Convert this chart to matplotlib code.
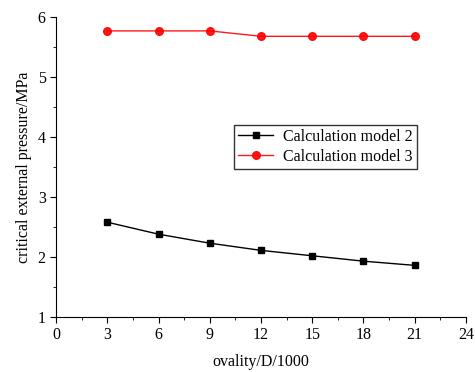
import matplotlib.pyplot as plt
from matplotlib.ticker import MultipleLocator

plt.rcParams['font.family'] = ['Liberation Serif', 'DejaVu Serif']

ovality = [3, 6, 9, 12, 15, 18, 21]
model2 = [2.58, 2.38, 2.23, 2.11, 2.02, 1.93, 1.86]
model3 = [5.77, 5.77, 5.77, 5.68, 5.68, 5.68, 5.68]

fig = plt.figure(figsize=(4.75, 3.72), dpi=100)
ax = fig.add_axes([0.118, 0.148, 0.863, 0.806])

ax.plot(ovality, model2, color="black", linewidth=1, marker="s", markersize=5,
        label="Calculation model 2")
ax.plot(ovality, model3, color="red", linewidth=1, marker="o", markersize=5.5,
        label="Calculation model 3", alpha=0.9)

ax.set_xlim(0, 24)
ax.set_ylim(1, 6)
ax.xaxis.set_major_locator(MultipleLocator(3))
ax.xaxis.set_minor_locator(MultipleLocator(1.5))
ax.yaxis.set_major_locator(MultipleLocator(1))
ax.yaxis.set_minor_locator(MultipleLocator(0.5))
ax.tick_params(which="major", direction="out", length=4, labelsize=11.5)
ax.tick_params(which="minor", direction="out", length=2.5)
ax.spines["top"].set_visible(False)
ax.spines["right"].set_visible(False)

ax.set_xlabel("ovality/D/1000", fontsize=11.5, labelpad=8)
ax.set_ylabel("critical external pressure/MPa", fontsize=11.5, labelpad=4)

leg = ax.legend(loc="upper left", bbox_to_anchor=(0.435, 0.64), fontsize=11.5,
                frameon=True, fancybox=False, edgecolor="black",
                handlelength=2.2, borderpad=0.25, labelspacing=0.25,
                handletextpad=0.6, borderaxespad=0)
leg.get_frame().set_linewidth(1)

plt.savefig("out.png", dpi=100)
